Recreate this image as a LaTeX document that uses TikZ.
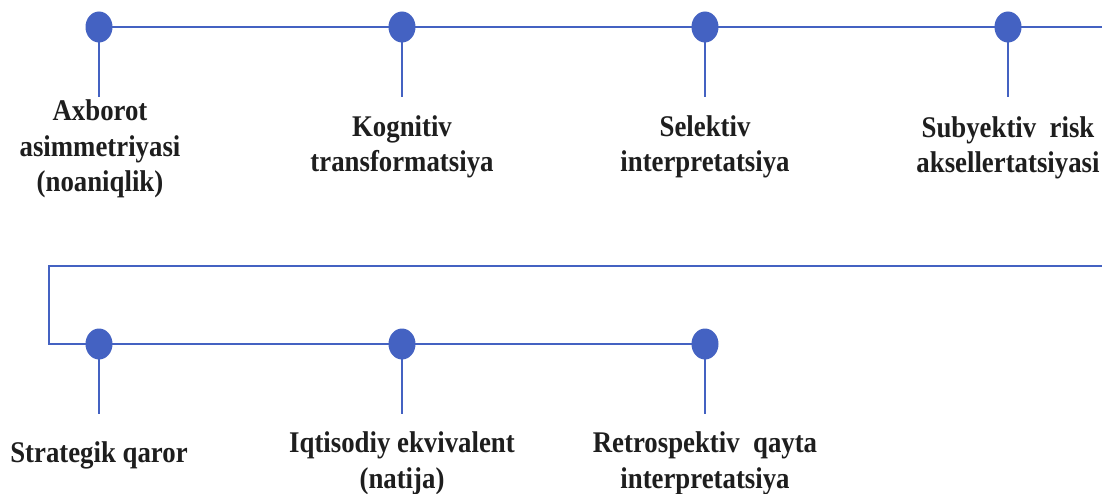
\documentclass[tikz,border=0pt]{standalone}
\usepackage{fontspec}
\setmainfont{Liberation Serif}
\usetikzlibrary{shapes.geometric}
\definecolor{tl}{RGB}{68,98,194}
\definecolor{tx}{RGB}{30,30,30}
\begin{document}
\begin{tikzpicture}[x=1pt,y=-1pt,
  dot/.style={ellipse,fill=tl,draw=none,minimum width=27pt,minimum height=31pt,inner sep=0pt},
  ln/.style={draw=tl,line width=1.6pt},
  lbl/.style={text=tx,font=\bfseries\fontsize{26.8}{32}\selectfont,align=center,anchor=base,yscale=1.12,inner sep=0pt}]
\useasboundingbox (0,0) rectangle (1102,494);
% top row
\coordinate (p1) at (99,27);
\coordinate (p2) at (402,27);
\coordinate (p3) at (705,27);
\coordinate (p4) at (1008,27);
\coordinate (r1) at (1102,27);
\coordinate (t1) at (99,97);
\coordinate (t2) at (402,97);
\coordinate (t3) at (705,97);
\coordinate (t4) at (1008,97);
\draw[ln] (p1) -- (r1);
\draw[ln] (p1) -- (t1);
\draw[ln] (p2) -- (t2);
\draw[ln] (p3) -- (t3);
\draw[ln] (p4) -- (t4);
% bottom row
\coordinate (r2) at (1102,266);
\coordinate (c1) at (49,266);
\coordinate (c2) at (49,344);
\coordinate (q1) at (99,344);
\coordinate (q2) at (402,344);
\coordinate (q3) at (705,344);
\coordinate (u1) at (99,414);
\coordinate (u2) at (402,414);
\coordinate (u3) at (705,414);
\draw[ln] (r2) -- (c1) -- (c2) -- (q3);
\draw[ln] (q1) -- (u1);
\draw[ln] (q2) -- (u2);
\draw[ln] (q3) -- (u3);
% dots
\node[dot] (d1) at (p1) {};
\node[dot] (d2) at (p2) {};
\node[dot] (d3) at (p3) {};
\node[dot] (d4) at (p4) {};
\node[dot] (e1) at (q1) {};
\node[dot] (e2) at (q2) {};
\node[dot] (e3) at (q3) {};
% labels (anchored at the baseline of the last line)
\node[lbl] (l1) at (100,192) {Axborot\\asimmetriyasi\\(noaniqlik)};
\node[lbl] (l2) at (402,172) {Kognitiv\\transformatsiya};
\node[lbl] (l3) at (705,172) {Selektiv\\interpretatsiya};
\node[lbl] (l4) at (1008,173) {Subyektiv\ \ risk\\aksellertatsiyasi};
\node[lbl] (m1) at (99,462) {Strategik qaror};
\node[lbl] (m2) at (402,488) {Iqtisodiy ekvivalent\\(natija)};
\node[lbl] (m3) at (705,488) {Retrospektiv\ \ qayta\\interpretatsiya};
\end{tikzpicture}
\end{document}
